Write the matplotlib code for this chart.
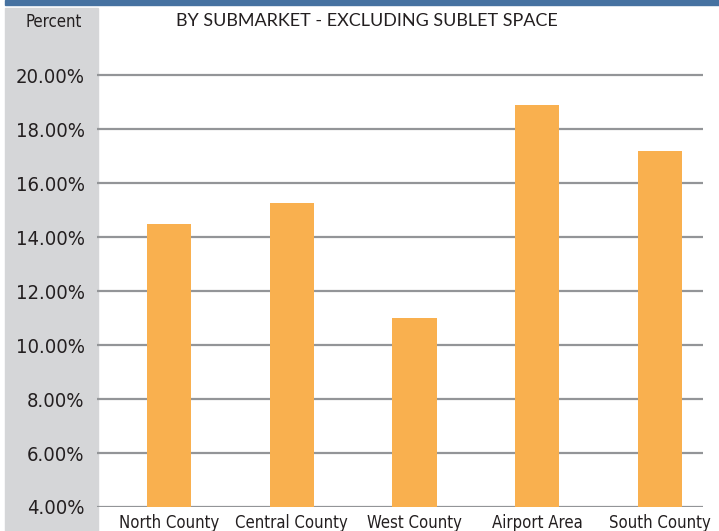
import matplotlib
matplotlib.use("Agg")
import matplotlib.pyplot as plt
from matplotlib.patches import Rectangle

# data
submarkets = ["North County", "Central County", "West County", "Airport Area", "South County"]
vacancy = [14.5, 15.25, 11.0, 18.9, 17.2]
ticks = [4, 6, 8, 10, 12, 14, 16, 18, 20]
tick_labels = ["%.2f%%" % t for t in ticks]

W, H = 719, 531
fig = plt.figure(figsize=(W / 100, H / 100), dpi=100)

txt = "#231f20"
cond = dict(family="DejaVu Sans", stretch="condensed", color=txt)

# blue strip on top and grey label column, behind the axes
fig.patches.append(Rectangle((5 / W, 1 - 5 / H), 1, 5 / H, transform=fig.transFigure,
                             color="#4672a1", zorder=-10))
fig.patches.append(Rectangle((5 / W, 0), 93 / W, 1 - 8 / H, transform=fig.transFigure,
                             color="#d5d6d8", zorder=-10))

ax = fig.add_axes([97 / W, 24 / H, 606 / W, 467 / H])
ax.patch.set_alpha(0)
ax.bar(range(len(submarkets)), vacancy, width=0.36, color="#f9b04f", zorder=3)

ax.set_xlim(-0.587, 4.35)
ax.set_ylim(4, 21.3)
ax.set_yticks(ticks)
ax.set_yticklabels(tick_labels, fontsize=14.5, **cond)
ax.set_xticks(range(len(submarkets)))
ax.set_xticklabels(submarkets, fontsize=12, **cond)
ax.tick_params(axis="y", length=0, pad=9)
ax.tick_params(axis="x", length=0, pad=5)
ax.grid(axis="y", color="#939598", linewidth=1.6, zorder=1)
for s in ax.spines.values():
    s.set_visible(False)

fig.text(82 / W, 1 - 22 / H, "Percent", ha="right", va="center", fontsize=12, **cond)
fig.text(367 / W, 1 - 21 / H, "BY SUBMARKET - EXCLUDING SUBLET SPACE", ha="center",
         va="center", family=["Lato", "DejaVu Sans"], fontsize=13, color=txt)

fig.savefig("out.png", dpi=100)
